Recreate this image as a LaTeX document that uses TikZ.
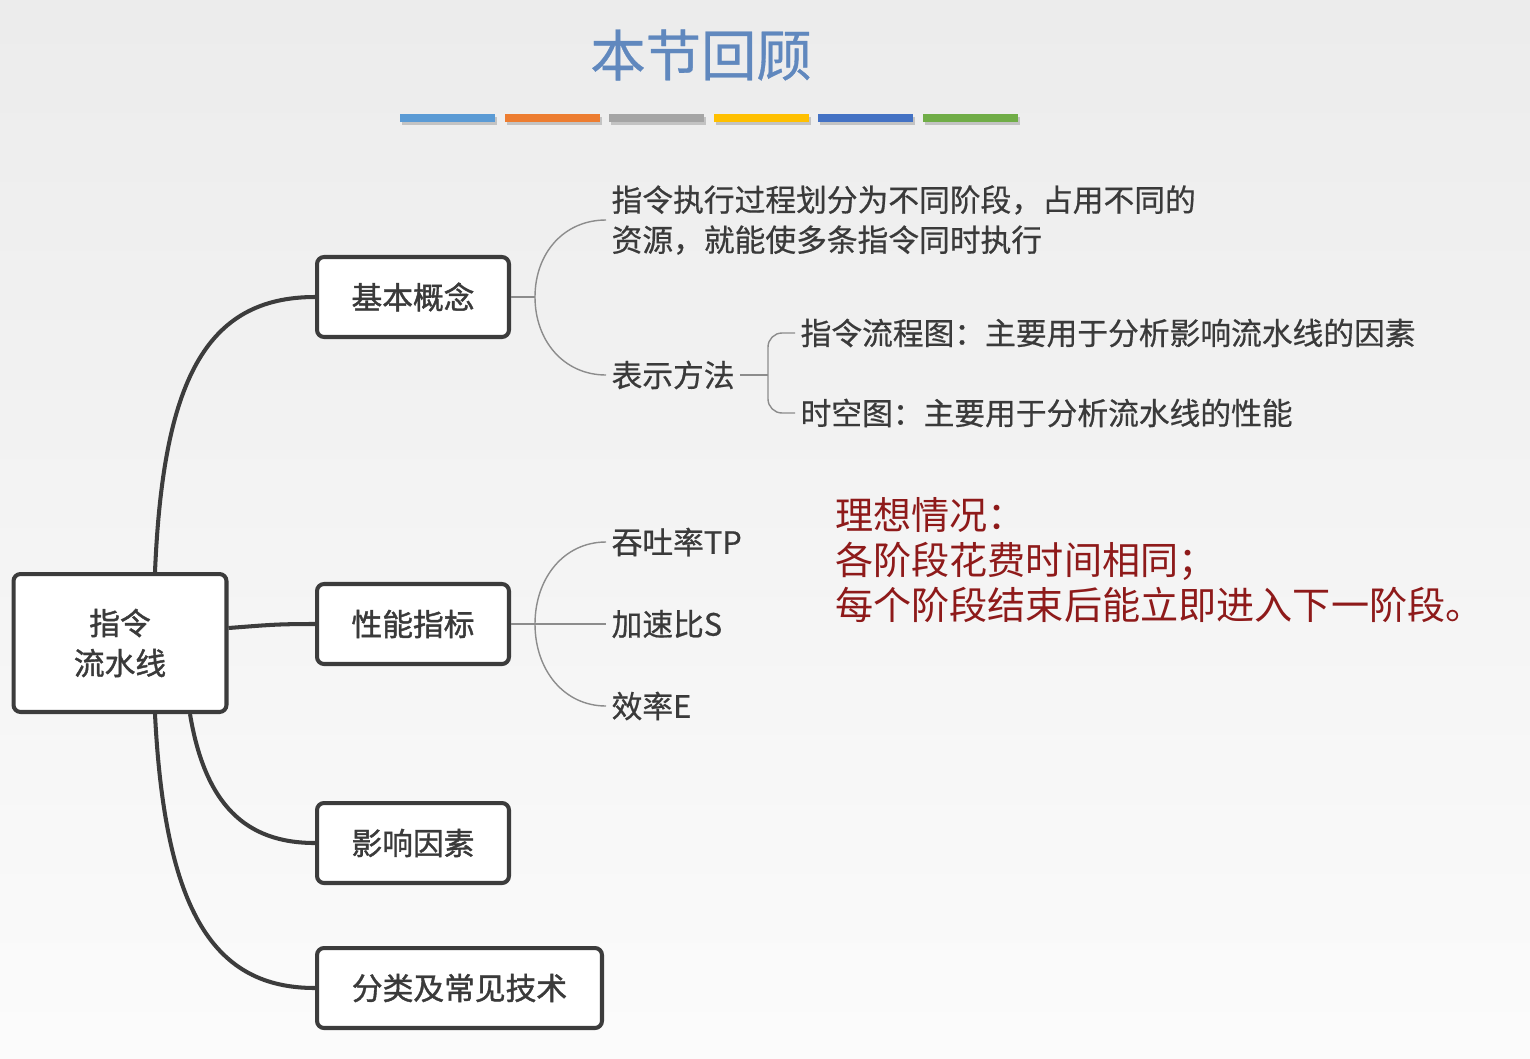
\documentclass[tikz,border=0pt]{standalone}
\usepackage{fontspec}
\newfontfamily\cjk{Noto Sans CJK SC}
\newfontfamily\cjkbox[FakeBold=1.3]{Noto Sans CJK SC}
\newfontfamily\cjkleaf[FakeBold=0.6]{Noto Sans CJK SC}
\usetikzlibrary{calc}
\definecolor{titleblue}{HTML}{6088BE}
\definecolor{boxline}{HTML}{3C3C3C}
\definecolor{twigline}{HTML}{8C8C8C}
\definecolor{inktext}{HTML}{3A3A3A}
\definecolor{notered}{HTML}{8E1A1A}
\definecolor{barblue}{HTML}{5B9BD5}
\definecolor{barorange}{HTML}{ED7D31}
\definecolor{bargray}{HTML}{A5A5A5}
\definecolor{baryellow}{HTML}{FFC000}
\definecolor{barnavy}{HTML}{4472C4}
\definecolor{bargreen}{HTML}{70AD47}

\begin{document}
\begin{tikzpicture}[x=0.02cm,y=-0.02cm,
  box/.style={draw=boxline,line width=2.3pt,rounded corners=4pt,fill=white,
    minimum height=1.6cm,text=inktext,font=\cjkbox\fontsize{17.5}{22.8}\selectfont},
  leaf/.style={anchor=west,inner sep=3pt,text=inktext,font=\cjkleaf\fontsize{17.5}{22.8}\selectfont},
  limb/.style={draw=boxline,line width=2.3pt},
  twig/.style={draw=twigline,line width=0.8pt}]
  \shade[top color=gray!15,bottom color=gray!3] (0,0) rectangle (1530,1058);
  \useasboundingbox (0,0) rectangle (1530,1058);

  \node[text=titleblue,font=\cjkleaf\fontsize{31.5}{36}\selectfont] (title) at (701,55) {本节回顾};
  \foreach \c [count=\i from 0] in {barblue,barorange,bargray,baryellow,barnavy,bargreen} {
    \fill[black,opacity=.18] (402+\i*104.5,117) rectangle ++(95,8);
    \fill[\c] (400+\i*104.5,114) rectangle ++(95,8);
  }

  \node[box,minimum width=4.26cm,minimum height=2.76cm,align=center] (root) at (120,643) {指令\\流水线};
  \node[box,minimum width=3.84cm] (concept) at (413,297) {基本概念};
  \node[box,minimum width=3.84cm] (perf) at (413,624) {性能指标};
  \node[box,minimum width=3.84cm] (factor) at (413,843) {影响因素};
  \node[box,minimum width=5.7cm] (classify) at (459.5,988) {分类及常见技术};

  \node[leaf,align=left] (def) at (606,220) {指令执行过程划分为不同阶段，占用不同的\\资源，就能使多条指令同时执行};
  \node[leaf] (repr) at (606,375) {表示方法};
  \node[leaf] (flow) at (795,333) {指令流程图：主要用于分析影响流水线的因素};
  \node[leaf] (spacetime) at (795,413) {时空图：主要用于分析流水线的性能};
  \node[leaf] (tp) at (606,542) {吞吐率TP};
  \node[leaf] (sp) at (606,624) {加速比S};
  \node[leaf] (eff) at (606,706) {效率E};

  \node[anchor=west,align=left,inner sep=0pt,text=notered,
    font=\cjk\fontsize{21.7}{25.6}\selectfont] (ideal) at (835,560)
    {理想情况：\\各阶段花费时间相同；\\每个阶段结束后能立即进入下一阶段。};

  % thick limbs out of the root box
  \draw[limb] ($(root.north)+(35,0)$) .. controls +(8,-190) and +(-110,0) .. (concept.west);
  \draw[limb] ($(root.east)+(0,-15)$) .. controls +(40,-3) and +(-40,0) .. (perf.west);
  \draw[limb] ($(root.south)+(70,0)$) .. controls +(15,90) and +(-70,0) .. (factor.west);
  \draw[limb] ($(root.south)+(35,0)$) .. controls +(10,200) and +(-100,0) .. (classify.west);

  % thin twigs
  \coordinate (cfork) at (535,297);
  \draw[twig] (concept.east) -- (cfork);
  \draw[twig] (def.west) .. controls +(-42,0) and +(0,-44) .. (cfork)
    .. controls +(0,44) and +(-42,0) .. (repr.west);
  \coordinate (rfork) at (768,375);
  \draw[twig] (repr.east) -- (rfork);
  \draw[twig,rounded corners=8pt] (flow.west) -| (rfork) |- (spacetime.west);
  \coordinate (pfork) at (535,624);
  \draw[twig] (perf.east) -- (sp.west);
  \draw[twig] (tp.west) .. controls +(-42,0) and +(0,-46) .. (pfork)
    .. controls +(0,46) and +(-42,0) .. (eff.west);
\end{tikzpicture}
\end{document}
